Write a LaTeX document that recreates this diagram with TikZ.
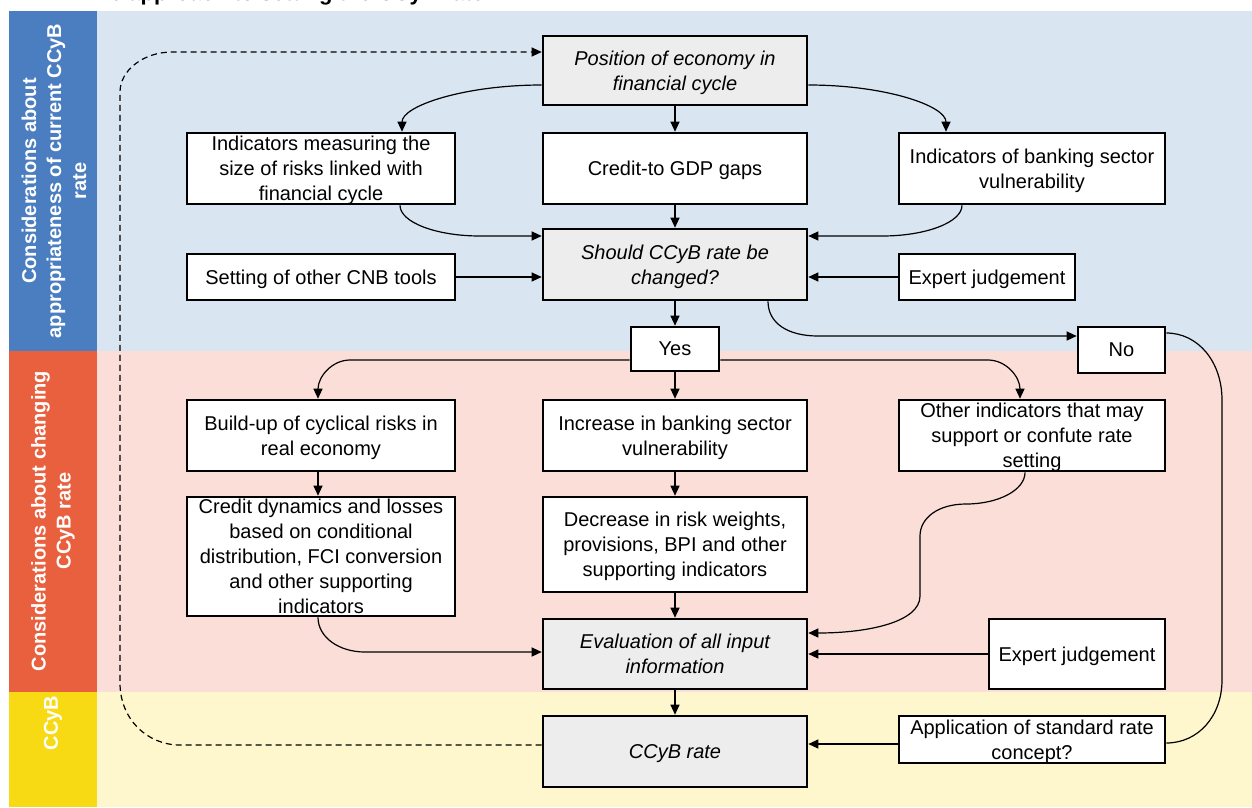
\documentclass[tikz,border=0pt]{standalone}
\usepackage{fontspec}
\setmainfont{Liberation Sans}
\usetikzlibrary{arrows.meta,calc}

\definecolor{bandblue}{HTML}{DAE5F2}
\definecolor{bandpink}{HTML}{FADED7}
\definecolor{bandyellow}{HTML}{FEF7CE}
\definecolor{labblue}{HTML}{4A7EC1}
\definecolor{laborange}{HTML}{E9603E}
\definecolor{labyellow}{HTML}{F7DA14}
\definecolor{boxgray}{HTML}{EDEDED}

\begin{document}
\begin{tikzpicture}[x=1pt,y=-1pt,
  box/.style={draw=black, line width=2.6pt, fill=white, align=center, inner sep=0pt,
              text depth=0pt, font=\fontsize{20}{25}\selectfont},
  gbox/.style={box, fill=boxgray, font=\fontsize{20}{25}\selectfont\itshape},
  lab/.style={rotate=90, text=white, align=center, inner sep=0pt,
              font=\fontsize{20}{25}\selectfont\bfseries},
  link/.style={line width=1.2pt, -{Triangle[length=10pt,width=9pt]}},
  plain/.style={line width=1.2pt},
  back/.style={line width=1.2pt, dash pattern=on 6pt off 4pt, -{Triangle[length=10pt,width=9pt]}}
]
\useasboundingbox (0,0) rectangle (1252,807);

% bands
\fill[white] (0,0) rectangle (1252,807);
\fill[bandblue] (97,11) rectangle (1252,351);
\fill[bandpink] (97,351) rectangle (1252,692);
\fill[bandyellow] (97,692) rectangle (1252,807);
\fill[labblue] (9,11) rectangle (97,351);
\fill[laborange] (9,351) rectangle (97,692);
\fill[labyellow] (9,692) rectangle (97,807);

% heading
\node[anchor=base west, inner sep=0pt, font=\fontsize{22}{26}\selectfont\bfseries] (title) at (83,0.5) {The approach to setting the CCyB rate};

% band labels
\node[lab] (l1) at (54,181) {Considerations about\\appropriateness of current CCyB\\rate};
\node[lab] (l2) at (53,521) {Considerations about changing\\CCyB rate};
\node[lab] (l3) at (53,723) {CCyB};

% boxes
\node[gbox, minimum width=264, minimum height=69] (pos) at (675,70.5) {Position of economy in\\financial cycle};
\node[box, minimum width=268, minimum height=71] (im) at (321,168.5) {Indicators measuring the\\size of risks linked with\\financial cycle};
\node[box, minimum width=264, minimum height=71] (cg) at (675,168.5) {Credit-to GDP gaps};
\node[box, minimum width=266, minimum height=71] (ib) at (1032,168.5) {Indicators of banking sector\\vulnerability};
\node[gbox, minimum width=264, minimum height=71] (sh) at (675,264.5) {Should CCyB rate be\\changed?};
\node[box, minimum width=268, minimum height=46] (set) at (321,277) {Setting of other CNB tools};
\node[box, minimum width=176, minimum height=46] (ej1) at (987,277) {Expert judgement};
\node[box, minimum width=88, minimum height=44] (yes) at (675,349) {Yes};
\node[box, minimum width=87, minimum height=46] (no) at (1121.5,350) {No};
\node[box, minimum width=268, minimum height=71] (bu) at (321,435.5) {Build-up of cyclical risks in\\real economy};
\node[box, minimum width=264, minimum height=71] (inc) at (675,435.5) {Increase in banking sector\\vulnerability};
\node[box, minimum width=266, minimum height=71] (oth) at (1032,435.5) {Other indicators that may\\support or confute rate\\setting};
\node[box, minimum width=268, minimum height=119] (cd) at (321,556.5) {Credit dynamics and losses\\based on conditional\\distribution, FCI conversion\\and other supporting\\indicators};
\node[box, minimum width=264, minimum height=95] (dec) at (675,544.5) {Decrease in risk weights,\\provisions, BPI and other\\supporting indicators};
\node[gbox, minimum width=264, minimum height=70] (ev) at (675,654) {Evaluation of all input\\information};
\node[box, minimum width=176, minimum height=70] (ej2) at (1077,654) {Expert judgement};
\node[gbox, minimum width=264, minimum height=71] (cc) at (675,751.5) {CCyB rate};
\node[box, minimum width=266, minimum height=47] (app) at (1032,739.5) {Application of standard rate\\concept?};

% connectors: current-rate block
\draw[link] (pos.west |- 0,85) .. controls +(-77,0) and +(0,-26) .. (im.north -| 402,0);
\draw[link] (pos.south) -- (cg.north);
\draw[link] (pos.east |- 0,85) .. controls +(77,0) and +(0,-26) .. (ib.north -| 946,0);
\draw[link] (im.south -| 400,0) .. controls +(0,17) and +(-44,0) .. (480,236) -- (sh.west |- 0,236);
\draw[link] (cg.south) -- (sh.north);
\draw[link] (ib.south -| 962,0) .. controls +(0,17) and +(44,0) .. (882,236) -- (sh.east |- 0,236);
\draw[link] (set.east) -- (sh.west |- set.east);
\draw[link] (ej1.west) -- (sh.east |- ej1.west);
\draw[link] (sh.south) -- (yes.north);
\draw[link] (sh.south -| 768,0) .. controls +(0,22) and +(-30,0) .. (818,336) -- (no.west |- 0,336);

% connectors: changing-rate block
\draw[link] (yes.west |- 0,360) -- (350,360) .. controls +(-18,0) and +(0,-22) .. (bu.north -| 318,0);
\draw[link] (yes.south) -- (inc.north);
\draw[link] (yes.east |- 0,360) -- (988,360) .. controls +(18,0) and +(0,-22) .. (oth.north -| 1020,0);
\draw[link] (bu.south -| 318,0) -- (cd.north -| 318,0);
\draw[link] (inc.south) -- (dec.north);
\draw[link] (dec.south) -- (ev.north);
\draw[link] (cd.south -| 318,0) .. controls +(0,20) and +(-26,0) .. (365,652) -- (ev.west |- 0,652);
\draw[link] (oth.south -| 1025,0) .. controls +(0,18) and +(32,0) .. (966,504)
            .. controls +(-28,0) and +(0,-18) .. (920,536) -- (920,596)
            .. controls +(0,26) and +(60,0) .. (ev.east |- 0,633);
\draw[link] (ej2.west) -- (ev.east |- ej2.west);

% connectors: rate block
\draw[link] (ev.south) -- (cc.north);
\draw[link] (app.west |- 0,744) -- (cc.east |- 0,744);
\draw[plain] (no.east |- 0,333) .. controls +(32,0) and +(0,-38) .. (1222,400) -- (1222,680)
             .. controls +(0,36) and +(32,0) .. (app.east |- 0,743);

% feedback loop
\draw[back] (cc.west |- 0,745) -- (180,745) .. controls +(-33,0) and +(0,36) .. (120,683)
            -- (120,92) .. controls +(0,-22) and +(-28,0) .. (172,52) -- (pos.west |- 0,52);
\end{tikzpicture}
\end{document}
